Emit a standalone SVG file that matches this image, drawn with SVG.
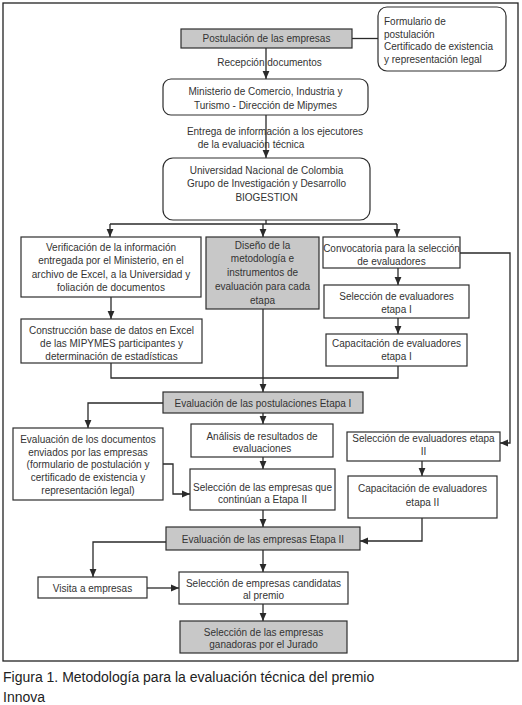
<svg xmlns="http://www.w3.org/2000/svg" width="522" height="705" viewBox="0 0 522 705">
<defs>
<marker id="ah" markerUnits="userSpaceOnUse" markerWidth="8" markerHeight="8" viewBox="0 0 8 8" refX="8" refY="4" orient="auto">
<path d="M0,0.6 L8,4 L0,7.4 Z" fill="#2a2a2a"/>
</marker>
</defs>
<style>
.box{fill:#fff;stroke:#2e2e2e;stroke-width:1.2}
.gray{fill:#c8c8c8;stroke:#2e2e2e;stroke-width:1.2}
.t{font-family:"Liberation Sans",Arial,sans-serif;font-size:10px;fill:#333;text-anchor:middle}
.tl{font-family:"Liberation Sans",Arial,sans-serif;font-size:10px;fill:#333}
.c{fill:none;stroke:#2a2a2a;stroke-width:1.3}
.a{fill:none;stroke:#2a2a2a;stroke-width:1.3;marker-end:url(#ah)}
.cap{font-family:"Liberation Sans",Arial,sans-serif;font-size:14px;fill:#222}
</style>
<rect width="522" height="705" fill="#fff"/>
<rect x="3" y="3" width="515" height="658" fill="none" stroke="#222" stroke-width="1.3"/>

<g id="connectors">
<line class="c" x1="352" y1="38.5" x2="378" y2="38.5"/>
<line class="a" x1="266" y1="48" x2="266" y2="79"/>
<line class="a" x1="266" y1="115" x2="266" y2="158"/>
<polyline class="c" points="266,220 266,224"/>
<line class="c" x1="110" y1="224" x2="397" y2="224"/>
<line class="a" x1="110" y1="224" x2="110" y2="237"/>
<line class="a" x1="263" y1="224" x2="263" y2="237"/>
<line class="a" x1="397" y1="224" x2="397" y2="237"/>
<line class="a" x1="111" y1="297" x2="111" y2="319"/>
<line class="a" x1="398" y1="268" x2="398" y2="285"/>
<line class="a" x1="398" y1="318" x2="398" y2="334"/>
<polyline class="c" points="111,363 111,378 398,378 398,366"/>
<line class="a" x1="263" y1="309" x2="263" y2="392"/>
<polyline class="a" points="163,403 88,403 88,428"/>
<line class="a" x1="263" y1="413" x2="263" y2="424"/>
<line class="a" x1="263" y1="457" x2="263" y2="469"/>
<polyline class="a" points="163,464 173,464 173,494 190,494"/>
<polyline class="a" points="460,253 510,253 510,443 500,443"/>
<line class="a" x1="422" y1="461" x2="422" y2="476"/>
<polyline class="a" points="422,518 422,541 360,541"/>
<line class="a" x1="263" y1="510" x2="263" y2="527"/>
<polyline class="a" points="166,542 93,542 93,577"/>
<line class="a" x1="147" y1="588" x2="179" y2="588"/>
<line class="a" x1="263" y1="550" x2="263" y2="572"/>
<line class="a" x1="263" y1="604" x2="263" y2="621"/>
</g>

<g id="label-recepcion"><text class="t" x="269.5" y="65.5">Recepción documentos</text></g>
<g id="label-entrega">
<text class="t" x="275" y="134.5">Entrega de información a los ejecutores</text>
<text class="t" x="251" y="147.5">de la evaluación técnica</text>
</g>

<g id="postulacion">
<rect class="gray" x="181" y="29" width="171" height="19"/>
<text class="t" x="266.5" y="42">Postulación de las empresas</text>
</g>
<g id="formulario">
<rect class="box" x="378" y="7" width="128" height="64" rx="9"/>
<text class="tl" x="384" y="25">Formulario de</text>
<text class="tl" x="384" y="37.5">postulación</text>
<text class="tl" x="384" y="50">Certificado de existencia</text>
<text class="tl" x="384" y="62.5">y representación legal</text>
</g>
<g id="ministerio">
<rect class="box" x="163" y="79" width="205" height="36" rx="8"/>
<text class="t" x="265.5" y="94.5">Ministerio de Comercio, Industria y</text>
<text class="t" x="265.5" y="108.5">Turismo - Dirección de Mipymes</text>
</g>
<g id="universidad">
<rect class="box" x="163" y="158" width="207" height="62" rx="10"/>
<text class="t" x="266.5" y="173.5">Universidad Nacional de Colombia</text>
<text class="t" x="266.5" y="187">Grupo de Investigación y Desarrollo</text>
<text class="t" x="266.5" y="200.5">BIOGESTION</text>
</g>
<g id="verificacion">
<rect class="box" x="21" y="237" width="180" height="60"/>
<text class="t" x="111" y="250.5">Verificación de la información</text>
<text class="t" x="111" y="264">entregada por el Ministerio, en el</text>
<text class="t" x="111" y="277.5">archivo de Excel, a la Universidad y</text>
<text class="t" x="111" y="291">foliación de documentos</text>
</g>
<g id="diseno">
<rect class="gray" x="206" y="237" width="113" height="72"/>
<text class="t" x="262.5" y="248.5">Diseño de la</text>
<text class="t" x="262.5" y="262.3">metodología e</text>
<text class="t" x="262.5" y="276.1">instrumentos de</text>
<text class="t" x="262.5" y="289.9">evaluación para cada</text>
<text class="t" x="262.5" y="303.7">etapa</text>
</g>
<g id="convocatoria">
<rect class="box" x="323" y="237" width="137" height="31"/>
<text class="t" x="391.5" y="251.5">Convocatoria para la selección</text>
<text class="t" x="391.5" y="264.5">de evaluadores</text>
</g>
<g id="seleccion-etapa1">
<rect class="box" x="324" y="285" width="145" height="33"/>
<text class="t" x="396.5" y="299.5">Selección de evaluadores</text>
<text class="t" x="396.5" y="312.5">etapa I</text>
</g>
<g id="capacitacion-etapa1">
<rect class="box" x="326" y="334" width="141" height="32"/>
<text class="t" x="396.5" y="346.5">Capacitación de evaluadores</text>
<text class="t" x="396.5" y="360">etapa I</text>
</g>
<g id="construccion">
<rect class="box" x="21" y="319" width="181" height="44"/>
<text class="t" x="111.5" y="333.5">Construcción base de datos en Excel</text>
<text class="t" x="111.5" y="346.5">de las MIPYMES participantes y</text>
<text class="t" x="111.5" y="359.5">determinación de estadísticas</text>
</g>
<g id="evaluacion-etapa1">
<rect class="gray" x="163" y="392" width="200" height="21"/>
<text class="t" x="263" y="406.5">Evaluación de las postulaciones Etapa I</text>
</g>
<g id="evaluacion-documentos">
<rect class="box" x="13" y="428" width="150" height="72"/>
<text class="t" x="88" y="442.5">Evaluación de los documentos</text>
<text class="t" x="88" y="455.5">enviados por las empresas</text>
<text class="t" x="88" y="468">(formulario de postulación y</text>
<text class="t" x="88" y="481">certificado de existencia y</text>
<text class="t" x="88" y="494">representación legal)</text>
</g>
<g id="analisis">
<rect class="box" x="191" y="424" width="142" height="33"/>
<text class="t" x="262" y="439.5">Análisis de resultados de</text>
<text class="t" x="262" y="452">evaluaciones</text>
</g>
<g id="seleccion-continuan">
<rect class="box" x="190" y="469" width="145" height="41"/>
<text class="t" x="262.5" y="490.5">Selección de las empresas que</text>
<text class="t" x="262.5" y="503">continúan a Etapa II</text>
</g>
<g id="seleccion-etapa2">
<rect class="box" x="347" y="432" width="153" height="29"/>
<text class="t" x="423.5" y="441.5">Selección de evaluadores etapa</text>
<text class="t" x="423.5" y="455">II</text>
</g>
<g id="capacitacion-etapa2">
<rect class="box" x="348" y="476" width="149" height="42"/>
<text class="t" x="422.5" y="491.5">Capacitación de evaluadores</text>
<text class="t" x="422.5" y="505.5">etapa II</text>
</g>
<g id="evaluacion-etapa2">
<rect class="gray" x="166" y="527" width="194" height="23"/>
<text class="t" x="263" y="543">Evaluación de las empresas Etapa II</text>
</g>
<g id="visita">
<rect class="box" x="38" y="577" width="109" height="21"/>
<text class="t" x="92.5" y="591.5">Visita a empresas</text>
</g>
<g id="candidatas">
<rect class="box" x="179" y="572" width="169" height="32"/>
<text class="t" x="263.5" y="586.5">Selección de empresas candidatas</text>
<text class="t" x="263.5" y="598.5">al premio</text>
</g>
<g id="ganadoras">
<rect class="gray" x="180" y="621" width="167" height="32"/>
<text class="t" x="263.5" y="635.5">Selección de las empresas</text>
<text class="t" x="263.5" y="648">ganadoras por el Jurado</text>
</g>

<g id="caption">
<text class="cap" x="3" y="682">Figura 1. Metodología para la evaluación técnica del premio</text>
<text class="cap" x="3" y="702">Innova</text>
</g>
</svg>
